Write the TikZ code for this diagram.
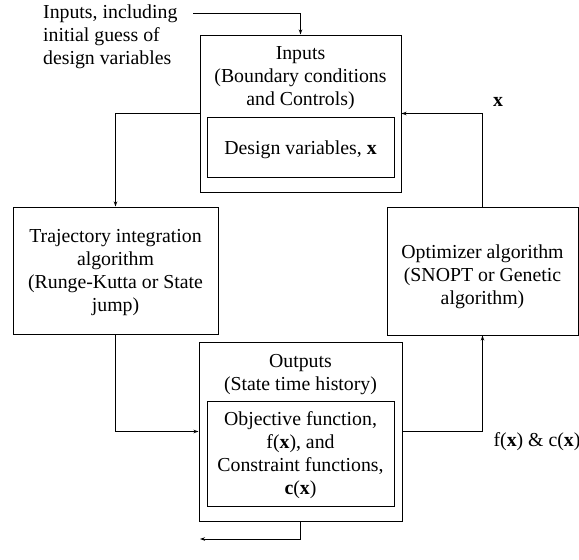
\documentclass[tikz,border=0pt]{standalone}
\usepackage{fontspec}
\setmainfont{Liberation Serif}
\usetikzlibrary{arrows.meta}
\begin{document}
\begin{tikzpicture}[x=1pt,y=-1pt,
  box/.style={draw,line width=1pt,inner sep=0pt},
  ibox/.style={draw,line width=0.8pt,inner sep=0pt},
  txt/.style={align=center,inner sep=0pt,font=\fontsize{19.8}{23}\selectfont},
  arr/.style={line width=1pt,-{Stealth[length=5pt,width=3.5pt]}}]
\useasboundingbox (0,0) rectangle (579,560);
% boxes
\node[box,minimum width=201pt,minimum height=157pt] (inp) at (300.5,113.5) {};
\node[ibox,minimum width=187pt,minimum height=60pt] (dv) at (300.5,147) {};
\node[box,minimum width=205pt,minimum height=127pt] (traj) at (115.5,270.5) {};
\node[box,minimum width=191pt,minimum height=128pt] (opt) at (482.5,271) {};
\node[box,minimum width=203pt,minimum height=179pt] (out) at (300.5,431.5) {};
\node[ibox,minimum width=187pt,minimum height=105pt] (obj) at (300.5,453.5) {};
% texts
\node[txt,anchor=north] (tinp) at (300.5,46) {Inputs\\(Boundary conditions\\and Controls)};
\node[txt] (tdv) at (300.5,150) {Design variables, \textbf{x}};
\node[txt] (ttraj) at (115.5,273) {Trajectory integration\\algorithm\\(Runge-Kutta or State\\jump)};
\node[txt] (topt) at (482.5,277) {Optimizer algorithm\\(SNOPT or Genetic\\algorithm)};
\node[txt,anchor=north] (tout) at (300.5,354) {Outputs\\(State time history)};
\node[txt] (tobj) at (300.5,455) {Objective function,\\f(\textbf{x}), and\\Constraint functions,\\\textbf{c}(\textbf{x})};
\node[txt,align=left,anchor=north west] (tin) at (43,5) {Inputs, including\\initial guess of\\design variables};
\node[txt] (lx) at (498,102) {\textbf{x}};
\node[txt] (lfc) at (537,442) {f(\textbf{x}) \& c(\textbf{x})};
% connectors
\coordinate (cin) at (193,13);
\coordinate (cout) at (200,539);
\draw[arr] (cin) -| (inp.north);
\draw[arr] (inp.west) -| (traj.north);
\draw[arr] (traj.south) |- (out.west);
\draw[arr] (out.east) -| (opt.south);
\draw[arr] (opt.north) |- (inp.east);
\draw[arr] (out.south) |- (cout);
\end{tikzpicture}
\end{document}
